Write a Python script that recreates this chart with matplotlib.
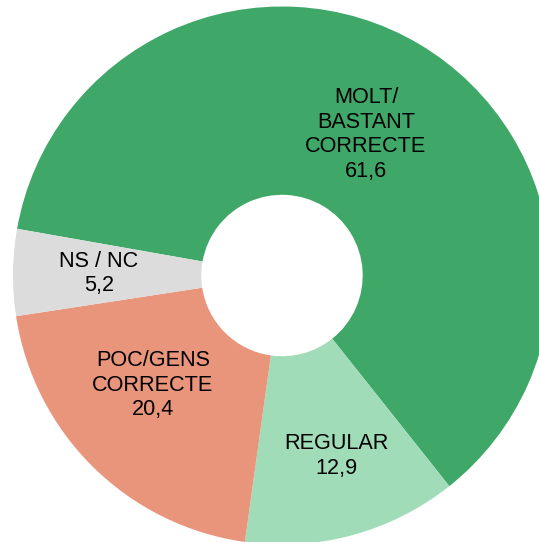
import numpy as np
import matplotlib.pyplot as plt

plt.rcParams['font.family'] = ['Liberation Sans', 'DejaVu Sans']

# Valoració (%)
labels = ['MOLT/\nBASTANT\nCORRECTE', 'REGULAR', 'POC/GENS\nCORRECTE', 'NS / NC']
values = [61.6, 12.9, 20.4, 5.2]
colors = ['#3fa868', '#a0dcb7', '#e8957c', '#dcdcdc']

# where each label sits inside its wedge (radius, extra rotation in degrees)
label_r = [0.61, 0.70, 0.63, 0.68]
label_rot = [0, 1.5, -5, 0]

fig = plt.figure(figsize=(5.39, 5.42), dpi=100)
# centre of the ring at pixel (282, 275.5) from top-left, outer radius 269 px
ax = fig.add_axes([13 / 539, (266.5 - 269) / 542, 538 / 539, 538 / 542])

wedges, _ = ax.pie(values, colors=colors, startangle=170, counterclock=False,
                   radius=1, wedgeprops=dict(width=0.7, linewidth=0))

for w, lab, v, r, rot in zip(wedges, labels, values, label_r, label_rot):
    ang = np.deg2rad((w.theta1 + w.theta2) / 2 + rot)
    ax.text(r * np.cos(ang), r * np.sin(ang), lab + '\n' + f'{v:.1f}'.replace('.', ','),
            ha='center', va='center', fontsize=15.6, linespacing=1.22, color='black')

ax.set_aspect('auto')
ax.set_xlim(-1, 1)
ax.set_ylim(-1, 1)
ax.axis('off')

fig.savefig('out.png', dpi=100)
